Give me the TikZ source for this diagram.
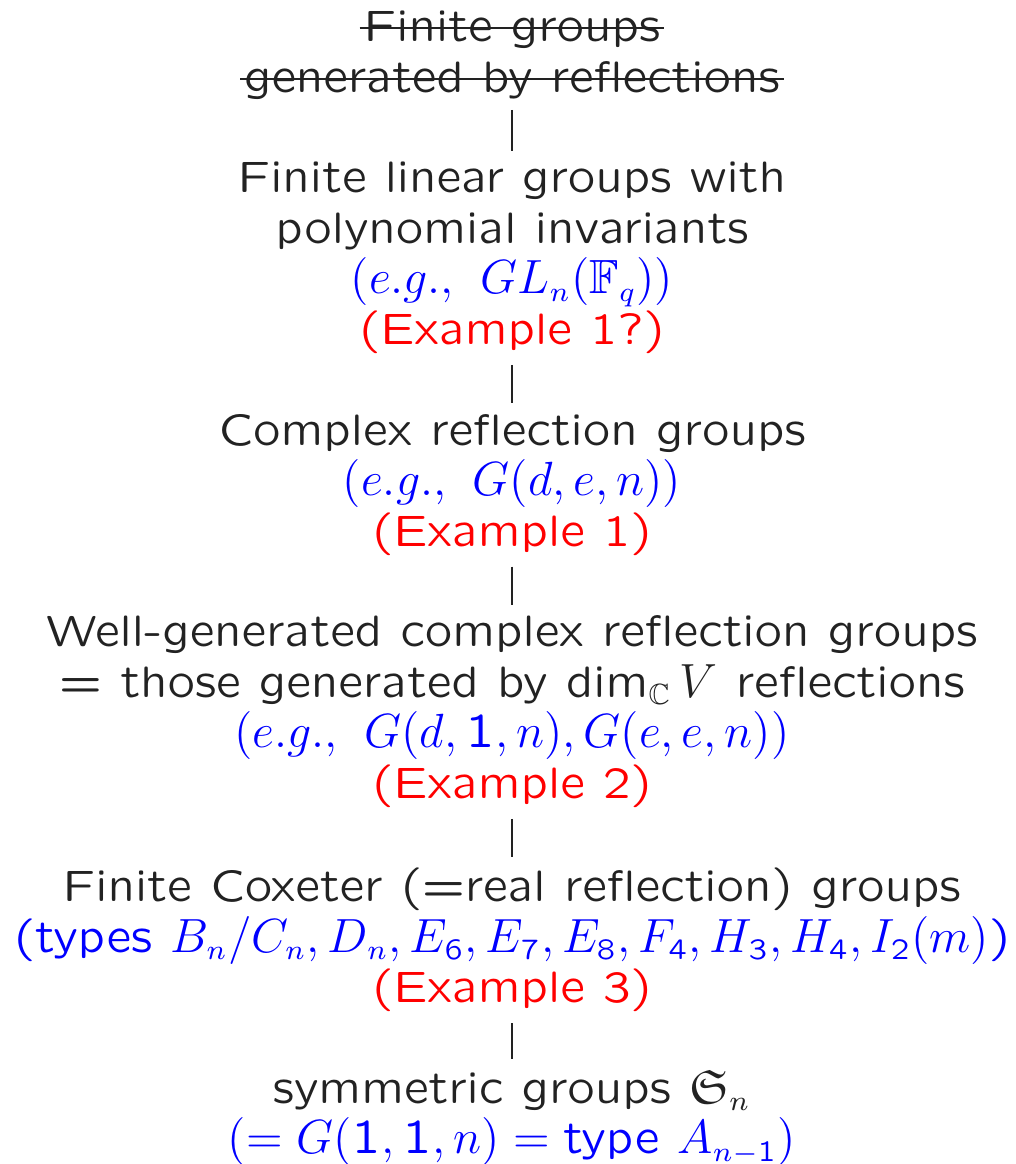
\documentclass[tikz,border=0pt]{standalone}
\usepackage{amsmath}
\usepackage{amssymb}
\usepackage{tikz}
\usetikzlibrary{positioning}
% slide sans for text and for the digits in math
\DeclareFontFamily{OT1}{slsans}{\hyphenchar\font=-1}
\DeclareFontShape{OT1}{slsans}{m}{n}{<-> lcmss8}{}
\DeclareSymbolFont{sfdigits}{OT1}{slsans}{m}{n}
\DeclareMathSymbol{0}{\mathalpha}{sfdigits}{`0}
\DeclareMathSymbol{1}{\mathalpha}{sfdigits}{`1}
\DeclareMathSymbol{2}{\mathalpha}{sfdigits}{`2}
\DeclareMathSymbol{3}{\mathalpha}{sfdigits}{`3}
\DeclareMathSymbol{4}{\mathalpha}{sfdigits}{`4}
\DeclareMathSymbol{5}{\mathalpha}{sfdigits}{`5}
\DeclareMathSymbol{6}{\mathalpha}{sfdigits}{`6}
\DeclareMathSymbol{7}{\mathalpha}{sfdigits}{`7}
\DeclareMathSymbol{8}{\mathalpha}{sfdigits}{`8}
\DeclareMathSymbol{9}{\mathalpha}{sfdigits}{`9}
\DeclareMathSizes{11}{12}{7.3}{6}
\definecolor{txtgray}{HTML}{222222}
\newcommand{\strk}[1]{\setbox0\hbox{#1}%
  \rlap{\kern-1pt\rule[3.25pt]{\dimexpr\wd0+2pt\relax}{0.5pt}}\box0}
\newcommand{\sdim}{\mathop{\text{dim}}\nolimits}

\begin{document}
\begin{tikzpicture}[
  x=0.25pt, y=-0.25pt,
  level/.style={align=center, inner sep=2.6pt, text=txtgray,
    font=\fontencoding{OT1}\fontfamily{slsans}\fontsize{11}{12.65}\selectfont},
  link/.style={draw=txtgray, line width=0.45pt},
]
\useasboundingbox (0,0) rectangle (1015,1164);

% --- the chain of classes, top to bottom
\node[level] (refl) at (512,55) {\strk{Finite groups}\\ \strk{generated by reflections}};
\node[level] (poly) at (512,258) {Finite linear groups with\\ polynomial invariants\\
  \textcolor{blue}{$(e.g.,\ GL_n(\mathbb{F}_q))$}\\ \textcolor{red}{(Example 1?)}};
\node[level] (cplx) at (512,485) {Complex reflection groups\\
  \textcolor{blue}{$(e.g.,\ G(d,e,n))$}\\ \textcolor{red}{(Example 1)}};
\node[level] (well) at (512,712) {Well-generated complex reflection groups\\
  = those generated by $\sdim_{\mathbb{C}} V$ reflections\\
  \textcolor{blue}{$(e.g.,\ G(d,1,n),G(e,e,n))$}\\ \textcolor{red}{(Example 2)}};
\node[level] (cox) at (512,940) {Finite Coxeter (=real reflection) groups\\
  \textcolor{blue}{(types $B_n/C_n,D_n,E_6,E_7,E_8,F_4,H_3,H_4,I_2(m)$)}\\
  \textcolor{red}{(Example 3)}};
\node[level] (sym) at (512,1118) {symmetric groups $\mathfrak{S}_n$\\
  \textcolor{blue}{$(=G(1,1,n)=\text{type }A_{n-1})$}};

% --- inclusions
\draw[link] (refl) -- (poly);
\draw[link] (poly) -- (cplx);
\draw[link] (cplx) -- (well);
\draw[link] (well) -- (cox);
\draw[link] (cox) -- (sym);

\end{tikzpicture}
\end{document}
